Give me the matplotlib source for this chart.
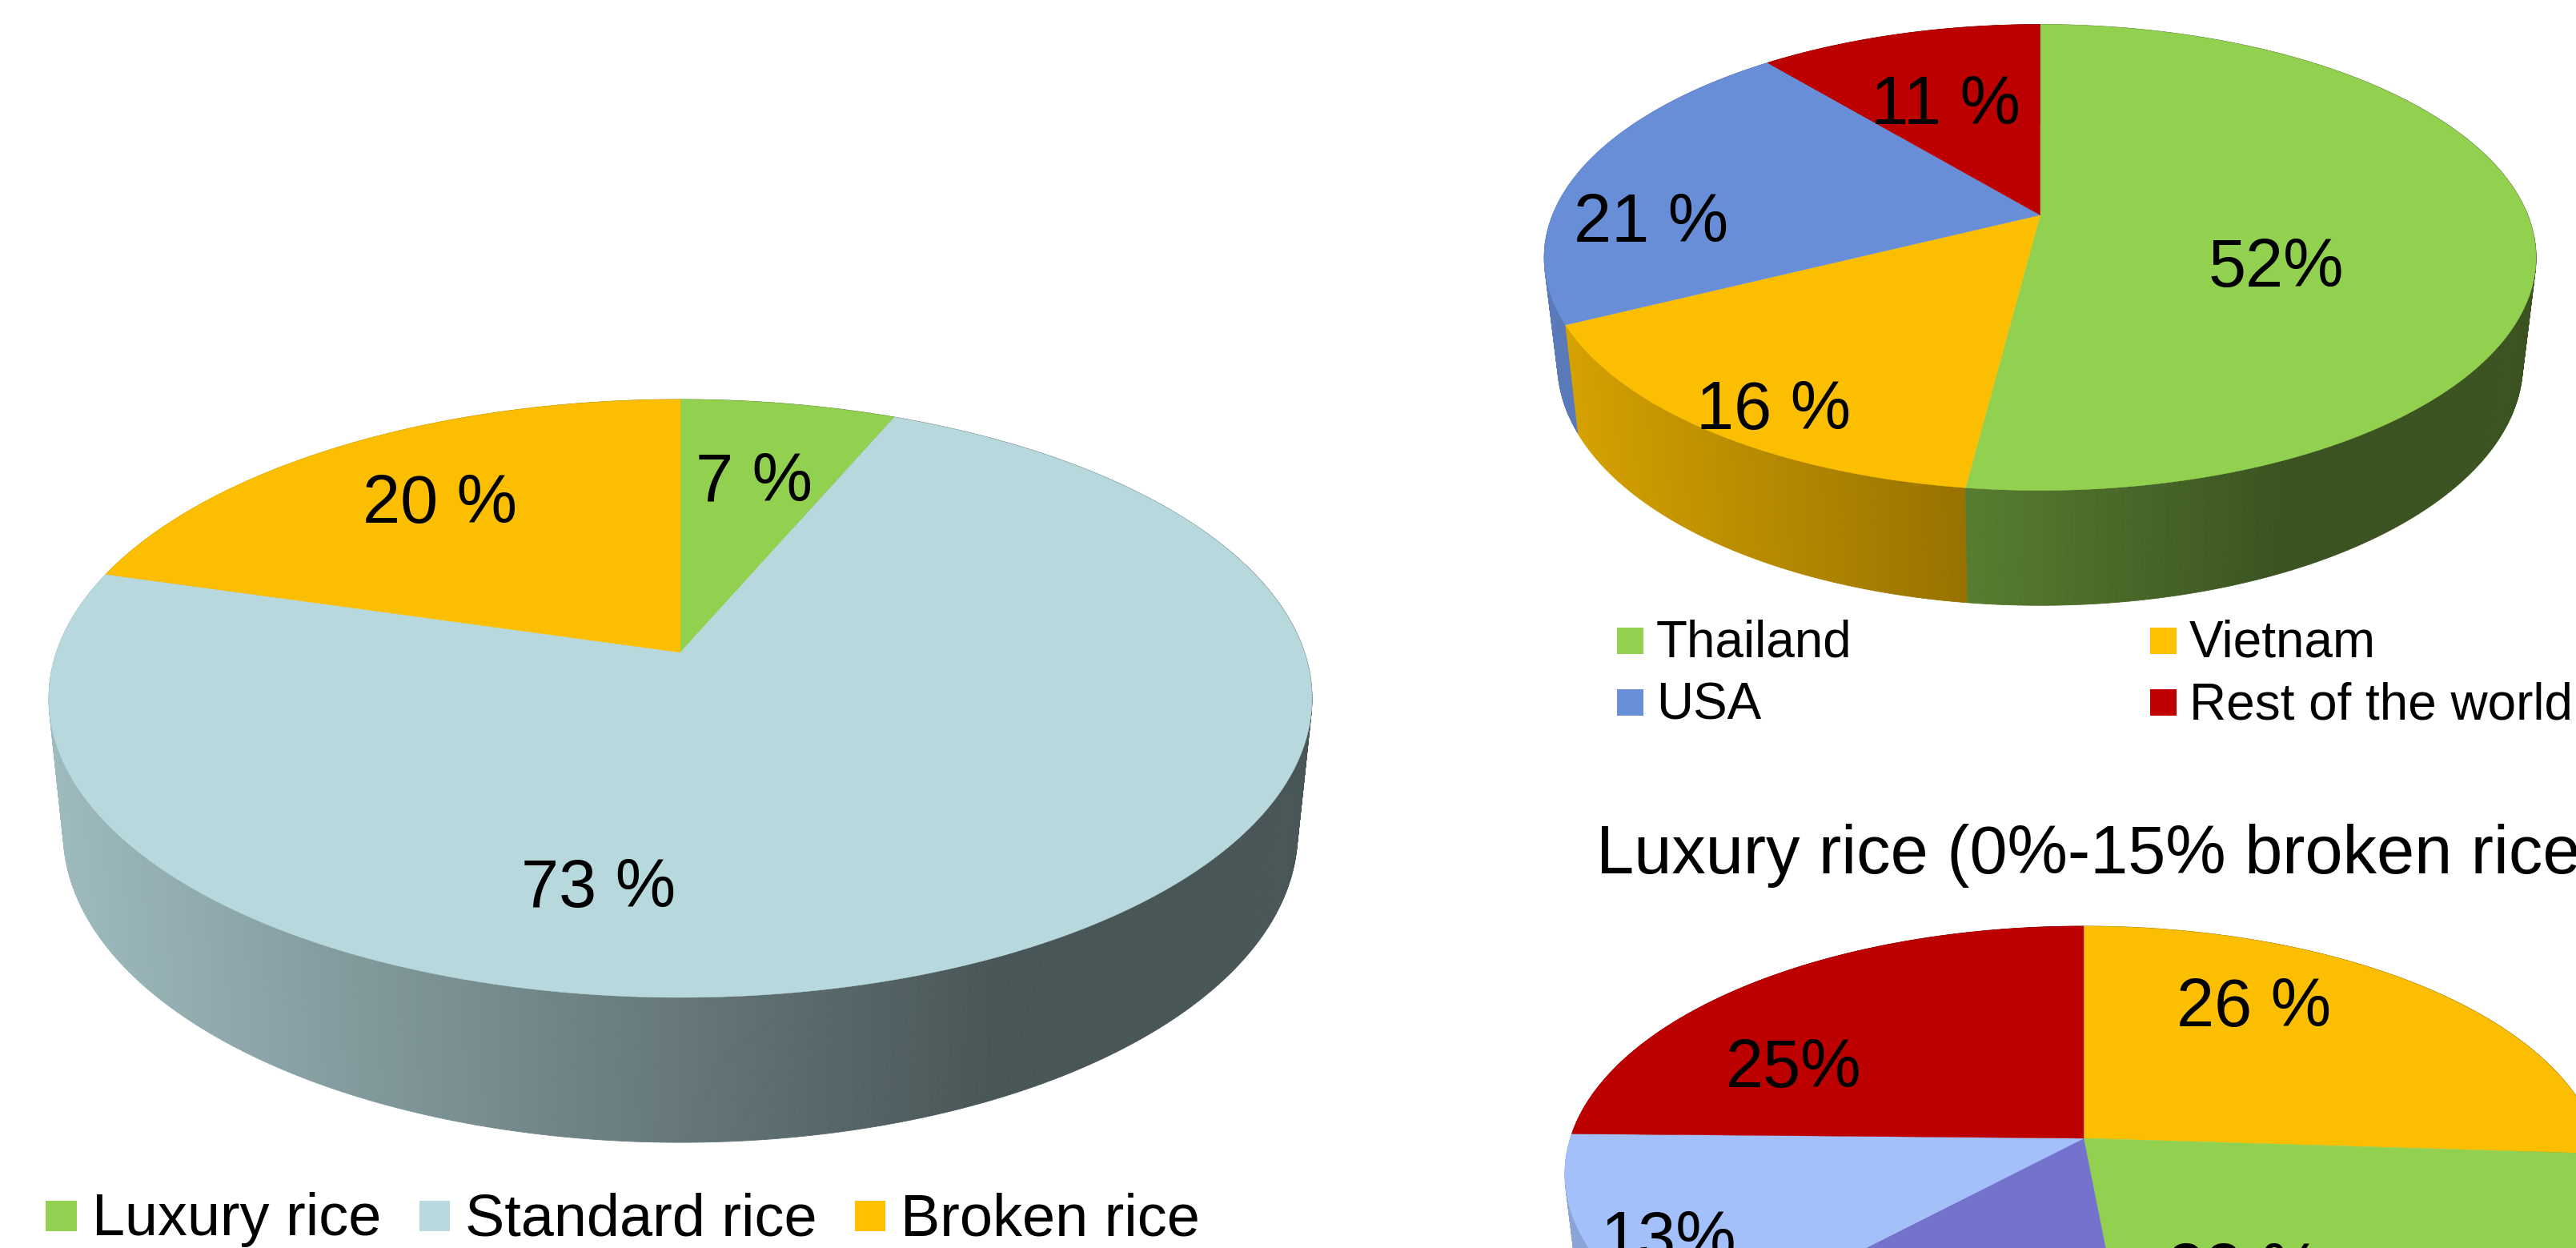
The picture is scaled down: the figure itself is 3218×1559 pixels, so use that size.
import numpy as np
import matplotlib
matplotlib.use('Agg')
import matplotlib.pyplot as plt
from matplotlib.collections import PolyCollection
from matplotlib.patches import Rectangle

plt.rcParams['font.family'] = ['Liberation Sans', 'DejaVu Sans']

# rice types, values measured from the slice edges, labels as printed
type_names = ['Luxury rice', 'Standard rice', 'Broken rice']
type_values = [6.4, 73.1, 20.5]
type_labels = ['7 %', '73 %', '20 %']

# exporters
export_names = ['Thailand', 'Vietnam', 'USA', 'Rest of the world']
export_values = [52, 15.6, 21.4, 11]
export_labels = ['52%', '16 %', '21 %', '11 %']

# luxury rice, the fourth share has no label inside the picture
luxury_title = 'Luxury rice (0%-15% broken rice)'
luxury_values = [26, 22.5, 13.5, 13.3, 24.7]
luxury_labels = ['26 %', '22 %', None, '13%', '25%']

GREEN = '#92D050'
YELLOW = '#FBBE00'
RED = '#BC0000'


def project(theta, cx, cy, R, A, k, sx=1.0, sy=1.0, dy=0.0):
    # circle seen in perspective, theta clockwise from the top
    u = np.sin(theta)
    v = np.cos(theta)
    x = cx + sx * R * u / (1 + k * v)
    y = cy + dy - sy * A * v / (1 + k * v)
    return x, y


def shade(color, frac):
    # sides go dark from left to about 74% of the width, then stay flat
    mult = 0.87 - 0.47 * min(frac / 0.74, 1.0)
    return tuple(c * mult for c in matplotlib.colors.to_rgb(color))


def draw_pie(ax, values, colors, cx, cy, rx, up, down, sx, sy, dy):
    k = (1 - up / down) / (1 + up / down)
    A = up * (1 + k)
    R = rx * np.sqrt(1 - k ** 2)
    total = float(sum(values))
    edges = np.cumsum([0] + list(values)) / total * 2 * np.pi

    quads = []
    for i in range(len(values)):
        n = max(int(np.degrees(edges[i + 1] - edges[i]) * 2), 2)
        th = np.linspace(edges[i], edges[i + 1], n + 1)
        xt, yt = project(th, cx, cy, R, A, k)
        xb, yb = project(th, cx, cy, R, A, k, sx, sy, dy)
        for j in range(n):
            poly = [(xt[j], yt[j]), (xt[j + 1], yt[j + 1]), (xb[j + 1], yb[j + 1]), (xb[j], yb[j])]
            frac = ((xb[j] + xb[j + 1]) / 2 - (cx - rx)) / (2 * rx)
            quads.append((np.cos((th[j] + th[j + 1]) / 2), poly, shade(colors[i], frac)))

    quads.sort(key=lambda q: -q[0])
    ax.add_collection(PolyCollection([q[1] for q in quads], facecolors=[q[2] for q in quads],
                                     edgecolors='face', linewidths=0.6))

    for i in range(len(values)):
        th = np.linspace(edges[i], edges[i + 1], 300)
        x, y = project(th, cx, cy, R, A, k)
        pts = np.column_stack((np.r_[cx, x], np.r_[cy, y]))
        ax.fill(pts[:, 0], pts[:, 1], color=colors[i], lw=0.3)


def put_labels(ax, labels, spots, size):
    for text, spot in zip(labels, spots):
        if text is not None:
            ax.text(spot[0], spot[1], text, ha='center', va='baseline', fontsize=size, color='black')


def legend_item(ax, x, y, w, h, color, text, tx, base, size):
    ax.add_patch(Rectangle((x, y), w, h, facecolor=color, edgecolor='none'))
    ax.text(tx, base, text, ha='left', va='baseline', fontsize=size, color='black')


fig = plt.figure(figsize=(32.18, 15.59), dpi=100)
ax = fig.add_axes([0, 0, 1, 1])
ax.set_xlim(0, 3218)
ax.set_ylim(1559, 0)
ax.axis('off')

# left pie
draw_pie(ax, type_values, [GREEN, '#B7D8DC', YELLOW], 850, 815, 789, 316, 431, 0.977, 1.035, 166)
put_labels(ax, type_labels, [(942, 625), (748, 1133), (550, 653)], 61)
legend_item(ax, 57, 1500, 39, 38, '#92D050', type_names[0], 115, 1543, 53.2)
legend_item(ax, 524, 1500, 38, 38, '#B7D8DC', type_names[1], 581, 1543, 53.2)
legend_item(ax, 1068, 1500, 38, 38, '#FFC000', type_names[2], 1125, 1543, 53.2)

# top right pie
draw_pie(ax, export_values, [GREEN, YELLOW, '#698ED8', RED], 2548.6, 268.6, 619.5, 238, 344, 0.973, 1.035, 131.6)
put_labels(ax, export_labels, [(2843, 358), (2216, 536), (2063, 302), (2430, 155)], 61)
legend_item(ax, 2020, 784, 33, 33, '#92D050', export_names[0], 2069, 820, 46)
legend_item(ax, 2686, 784, 33, 33, '#FFC000', export_names[1], 2735, 820, 46)
legend_item(ax, 2020, 861, 33, 33, '#698ED8', export_names[2], 2069, 898, 46)
legend_item(ax, 2686, 861, 33, 33, '#C00000', export_names[3], 2735, 898, 46)

# lower right pie, cut by the edges of the picture
ax.text(1994, 1091, luxury_title, ha='left', va='baseline', fontsize=61, color='black')
draw_pie(ax, luxury_values, [YELLOW, GREEN, '#7373CE', '#A3C0FA', RED], 2603, 1422, 648, 265, 354, 0.973, 1.035, 138)
put_labels(ax, luxury_labels, [(2816, 1282), (2804, 1613), None, (2084, 1573), (2241, 1358)], 61)

fig.savefig('out.png', dpi=100)
